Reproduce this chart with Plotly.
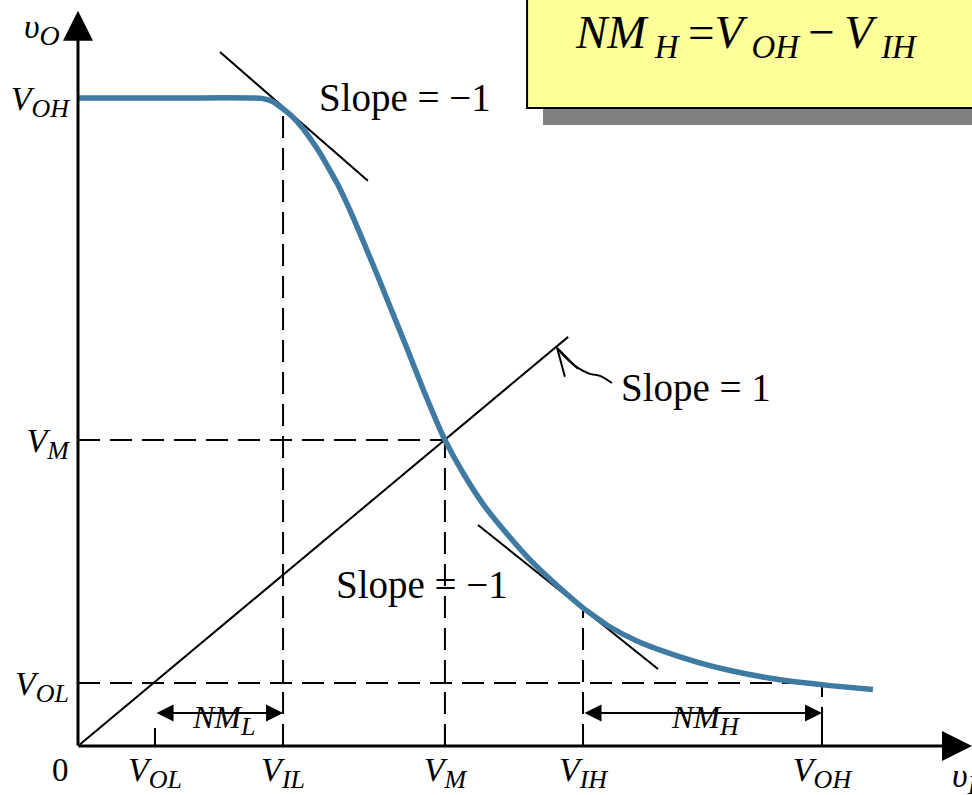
import plotly.graph_objects as go

# ---- data (volts, schematic VTC of an inverter) ----
vtc_vin  = [0.000, 0.410, 0.578, 0.618, 0.652, 0.685, 0.716, 0.746, 0.780, 0.813, 0.840, 0.870,
            0.914, 0.958, 1.005, 1.048, 1.106, 1.159, 1.206, 1.233, 1.294, 1.361, 1.442, 1.519,
            1.610, 1.697, 1.788, 1.878, 1.966, 2.080, 2.191, 2.302, 2.416, 2.527, 2.671]
vtc_vout = [2.609, 2.609, 2.609, 2.607, 2.595, 2.568, 2.538, 2.500, 2.446, 2.387, 2.331, 2.267,
            2.156, 2.033, 1.898, 1.770, 1.599, 1.438, 1.303, 1.232, 1.099, 0.974, 0.853, 0.749,
            0.646, 0.556, 0.479, 0.423, 0.382, 0.338, 0.304, 0.278, 0.258, 0.243, 0.227]

x_tick_vals  = [0.259, 0.689, 1.233, 1.697, 2.500]
x_tick_names = [("V", "OL"), ("V", "IL"), ("V", "M"), ("V", "IH"), ("V", "OH")]
y_tick_vals  = [0.254, 1.232, 2.609]
y_tick_names = [("V", "OL"), ("V", "M"), ("V", "OH")]

VOL_x, VIL_x, VM_x, VIH_x, VOH_x = x_tick_vals
VOL_y, VM_y, VOH_y = y_tick_vals
VIL_curve_y = 2.568
VIH_curve_y = 0.556

unity_line_x = [0.0, 1.647]
unity_line_y = [0.0, 1.647]
tangent1_x = [0.477, 0.974]
tangent1_y = [2.794, 2.275]
tangent2_x = [1.344, 1.949]
tangent2_y = [0.890, 0.310]
squiggle_x = [1.794, 1.754, 1.720, 1.680, 1.640, 1.610]
squiggle_y = [1.461, 1.490, 1.498, 1.522, 1.562, 1.602]
chevron_x = [1.636, 1.610, 1.680]
chevron_y = [1.486, 1.602, 1.518]
nm_arrow_y = 0.133

SERIF = "Liberation Serif"
X_RANGE = [0, 3.004]
Y_RANGE = [0, 3.003]


def lab(main, sub, sub_px=26):
    return f"<i>{main}</i><sub><span style='font-size:{sub_px}px'><i>{sub}</i></span></sub>"


fig = go.Figure()

dash = "22px,10px"
def dline(xs, ys):
    fig.add_trace(go.Scatter(x=xs, y=ys, mode="lines", hoverinfo="skip",
                             line=dict(color="black", width=2, dash=dash)))

# dashed guide lines
dline([0, VM_x], [VM_y, VM_y])
dline([VM_x, VM_x], [0, VM_y])
dline([VIL_x, VIL_x], [0, VIL_curve_y])
dline([VIH_x, VIH_x], [0, VIH_curve_y])
dline([0, VOH_x, VOH_x], [VOL_y, VOL_y, 0])

# thin solid lines
for xs, ys in [(unity_line_x, unity_line_y), (tangent1_x, tangent1_y), (tangent2_x, tangent2_y),
               (chevron_x, chevron_y)]:
    fig.add_trace(go.Scatter(x=xs, y=ys, mode="lines", hoverinfo="skip",
                             line=dict(color="black", width=2)))
fig.add_trace(go.Scatter(x=squiggle_x, y=squiggle_y, mode="lines", hoverinfo="skip",
                         line=dict(color="black", width=2, shape="spline")))

# VTC curve
fig.add_trace(go.Scatter(x=vtc_vin, y=vtc_vout, mode="lines", hoverinfo="skip",
                         line=dict(color="#3f7aa3", width=5.5, shape="spline", smoothing=0.5)))

# yellow formula box with shadow
fig.add_shape(type="rect", x0=1.5625, x1=3.2, y0=2.500, y1=2.6, xref="x", yref="y",
              fillcolor="#808080", line=dict(width=0), layer="above")
fig.add_shape(type="rect", x0=1.509, x1=3.2, y0=2.568, y1=3.2, xref="x", yref="y",
              fillcolor="#ffff99", line=dict(color="black", width=2), layer="above")

ann = []
# axes with arrows
ann.append(dict(x=0, y=2.96, ax=0, ay=-0.004, xref="x", yref="y", axref="x", ayref="y",
                text="", showarrow=True, arrowhead=2, arrowsize=2.0, arrowwidth=3, arrowcolor="black"))
ann.append(dict(x=3.004, y=0, ax=-0.004, ay=0, xref="x", yref="y", axref="x", ayref="y",
                text="", showarrow=True, arrowhead=2, arrowsize=2.0, arrowwidth=3, arrowcolor="black"))
# noise margin double arrows
for x0, x1 in [(VOL_x, VIL_x), (VIH_x, VOH_x)]:
    ann.append(dict(x=x1, y=nm_arrow_y, ax=x0, ay=nm_arrow_y, xref="x", yref="y", axref="x", ayref="y",
                    text="", showarrow=True, arrowhead=2, arrowside="end+start", arrowsize=1.7,
                    arrowwidth=2, arrowcolor="black"))

def text(x, y, t, size=30, xanchor="center", ref="data"):
    r = ("x", "y") if ref == "data" else ("paper", "paper")
    ann.append(dict(x=x, y=y, xref=r[0], yref=r[1], text=t, showarrow=False, xanchor=xanchor,
                    yanchor="middle", font=dict(family=SERIF, size=size, color="black")))

text(1.099, 2.609, "Slope = −1", size=39)
text(2.077, 1.441, "Slope = 1", size=39)
text(1.156, 0.648, "Slope = −1", size=39)
text(0.49, 0.105, lab("NM", "L", 26), size=32)
text(2.11, 0.105, lab("NM", "H", 26), size=32)
# labels outside the axis area (paper coordinates)
text(-0.0201, -0.0322, "0", size=33, ref="paper")
text(-0.0403, 0.9605, lab("υ", "O", 28), size=34, ref="paper")
text(0.9754, -0.0429, lab("υ", "I", 28), size=34, xanchor="left", ref="paper")
text(2.245, 2.862,
     "<i>NM</i><sub> <i>H</i></sub>\u2009=<i>V</i><sub> <i>OH</i></sub>\u2009−\u2009<i>V</i><sub> <i>IH</i></sub>",
     size=47)

fig.update_layout(
    width=972, height=795, autosize=False,
    margin=dict(l=78, r=0, t=0, b=49),
    paper_bgcolor="white", plot_bgcolor="white",
    showlegend=False, annotations=ann,
    xaxis=dict(range=X_RANGE, showgrid=False, zeroline=False, showline=False, automargin=False,
               tickvals=x_tick_vals, ticktext=[lab(a, b, 26) for a, b in x_tick_names],
               ticks="inside", ticklen=18, tickwidth=2, tickcolor="black",
               tickfont=dict(family=SERIF, size=34, color="black"), fixedrange=True),
    yaxis=dict(range=Y_RANGE, showgrid=False, zeroline=False, showline=False, automargin=False,
               tickvals=y_tick_vals, ticktext=[lab(a, b, 26) for a, b in y_tick_names],
               ticks="", ticklabelstandoff=8,
               tickfont=dict(family=SERIF, size=34, color="black"), fixedrange=True),
)

fig.write_html("out.html", config={"displayModeBar": False},
               post_script="document.body.style.margin='0';document.body.style.overflow='hidden';")
